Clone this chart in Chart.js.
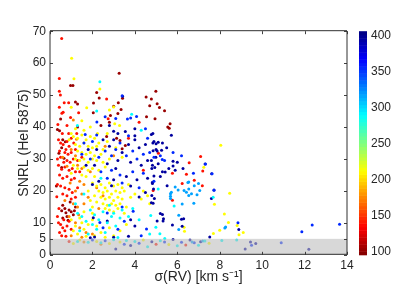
<!DOCTYPE html>
<html><head><meta charset="utf-8">
<script src="https://cdn.jsdelivr.net/npm/chart.js@4.4.1/dist/chart.umd.min.js"></script>
<style>html,body{margin:0;padding:0;background:#fff;}#wrap{width:407px;height:286px;}</style>
</head><body><div id="wrap"><canvas id="c" width="407" height="286"></canvas></div>
<script>
const xTicks=[0,2,4,6,8,10,12,14];
const yTicks=[0,5,10,20,30,40,50,60,70];
const cbTicks=[100,150,200,250,300,350,400];
const cbRange=[96.3,405.7];
const bandMax=5;
const xLabel='\u03c3(RV) [km s\u207b\u00b9]';
const yLabel='SNRL (HeI 5875)';
// colour value (colourbar quantity) of each group
const teffDarkRed=104, teffRed=140, teffOrange=175, teffYellow=212, teffCyan=290, teffLightBlue=318, teffBlue=355, teffDarkBlue=396;

const darkRedPts=[[0.35,39.2],[0.45,38.8],[0.5,42.5],[0.97,53],[1.08,53],[1.2,47.8],[1.3,47.2],[1.3,40],[0.6,36],[0.72,35.4],[0.55,33.5],[0.42,31.8],[0.66,30.2],[0.55,27.3],[0.3,21.5],
[2.05,47.5],[2.2,50.8],[2.32,49.1],[3.26,56.8],[3.42,49],[3.22,47.6],[3.0,46.5],[2.85,43.6],[2.04,44.5],[3.2,44.2],[3.35,45.5],[2.4,40.5],[2.67,37],[3.14,36.5],[3.3,35.8],[3.55,34.2],[3.4,33.2],[2.8,41.5],
[4.53,49.4],[4.99,51.2],[4.78,48.8],[5.05,47.3],[4.7,46.7],[5.16,46.1],[5.4,45.1],[5.66,41],[5.55,40],[5.62,39.6],[4.95,42.6],[4.55,43.2],
[0.6,15.5],[0.7,14.5],[0.75,13.2],[0.9,14],[1.0,13.5],[1.1,12.5],[0.8,12],[0.6,11.5],[1.2,15],[0.95,16.5],[0.55,13.8],[1.15,13.8],[0.85,10.8]];

const redPts=[[0.55,67.7],[0.44,55.2],[0.44,51.2],[0.49,50],[0.67,47.6],[0.88,47.6],[0.44,46.2],[0.56,44.3],[0.62,44.6],[0.8,40.5],[0.37,40.8],[0.97,43],[1.35,44.5],[0.88,38],[1.26,38],[2.67,48.8],[2.74,42.6],
[0.4,36],[0.5,35],[0.62,34.5],[0.8,35.5],[0.9,34],[1.0,36.5],[1.12,35],[0.45,32.5],[0.7,32],[0.85,31.5],[1.0,32],[1.2,33],[0.35,30],[0.5,30.5],[0.65,29],[0.8,29.5],[0.95,29],[1.1,30],[1.3,29.5],[0.4,28],[0.55,26.8],[0.7,27.5],[0.9,26.5],[1.05,27],[1.2,26],[0.45,25],[0.6,24],[0.8,24.5],[1.0,23.5],[1.15,24],[0.35,22],[0.5,21.5],[0.7,21],[0.9,20.5],[1.05,19.5],[1.3,21],[0.6,19],[0.8,18.5],[1.0,17.5],[1.2,18],[0.32,18.2],[1.5,30.5],[1.4,26],[0.75,33],[0.58,38],
[0.4,10],[0.5,9.5],[0.6,8.5],[0.7,7.5],[0.45,7],[0.55,6],[0.8,9],[0.9,10.5],[0.35,12],[0.65,11],[1.0,8],[0.75,5.8],[0.42,14.5],
[6.56,28.8],[6.43,25.2],[7.2,26.2],[5.77,25.5],[6.8,23.3],[7.1,30.8],[7.18,21.6],[5.11,31.8],[6.23,22.3],[5.77,17.1],[4.86,20.1],[4.4,26.5],[3.7,36.5],[4.2,41.5],
[5.0,3.3],[6.4,3.1],[0.9,4.2]];

const orangePts=[[1.0,33],[1.2,31],[1.3,28],[1.5,27],[1.4,23],[1.6,22],[1.2,20],[1.5,19],[1.8,18],[1.1,16],[1.3,15],[1.6,16],[0.9,12],[1.2,10],[1.4,8.5],[1.7,7],[1.0,6],[2.0,6.5],[1.5,5.5],[2.2,21],[2.5,18.5],[0.6,30.5],[0.8,27.7],[1.9,26],[2.6,34],[3.0,31],[0.95,22.5],[1.25,36.2],[0.7,17],[1.35,12.5],[2.3,14.5],[1.1,42.2],
[1.6,4.0],[2.4,3.3]];

const yellowPts=[[1.02,61.5],[1.13,55.1],[2.35,51.9],[1.0,46.2],[1.73,46],[3.0,46.3],[2.8,45.3],[3.05,41],[3.28,40.5],[1.0,38],[2.24,38],[2.7,38],[1.5,42],[1.9,40],[8.05,34.3],
[0.9,36],[1.1,37],[1.3,36.5],[1.5,37.5],[1.7,36],[1.9,37],[2.1,36.5],[2.3,35],[1.2,34.5],[1.4,34],[1.6,35],[1.8,34],[2.0,33.5],[2.2,34],[2.5,33],[1.3,32.5],[1.5,32],[1.7,31.5],[1.9,32],[2.1,31],[2.4,31.5],[1.2,30],[1.4,29.5],[1.6,30],[1.8,29],[2.0,30],[2.2,29.5],[2.5,29],[1.1,28],[1.3,27],[1.6,27.5],[1.8,26.5],[2.0,27],[2.3,26.5],[1.5,25],[1.7,24.5],[2.1,24.5],[2.6,27.5],[1.0,25.5],[2.8,30],[2.7,35.5],[3.1,33.5],[3.4,30.5],[1.2,39.5],[1.6,39],
[2.0,22.5],[2.2,21.5],[2.4,22],[2.6,21],[2.8,22.5],[3.0,21.5],[3.2,22],[3.4,21],[2.3,20],[2.5,19.5],[2.7,20],[2.9,19],[3.1,20],[3.3,19.5],[3.5,20],[2.1,18.5],[2.4,18],[2.6,17.5],[2.8,18],[3.0,17],[3.2,18],[3.4,17.5],[2.2,16.5],[2.5,16],[2.7,15.5],[2.9,16],[3.1,15.5],[3.3,16],[3.6,15],[2.6,14.5],[2.8,14],[3.0,13.5],[3.2,14.5],[3.5,13],[2.0,15],[1.8,20],[1.9,17],[3.7,22],[3.8,18],[4.0,19],
[1.0,11],[1.2,9],[1.4,11.5],[1.5,10],[1.6,8],[1.8,9.5],[2.0,11],[2.2,9],[1.3,6.5],[1.7,5.8],[2.1,6],[2.4,7],[2.6,5.5],[1.1,7.5],[2.8,8.5],[3.0,6],[3.3,7.5],[3.6,9.5],[2.0,13],[1.6,13.5],
[4.3,17.5],[4.6,18.5],[4.4,20],[4.7,16],
[7.25,27.4],[8.47,19.3],[7.75,15.8],[8.22,12.8],[8.41,10.1],[8.82,9.2],[8.91,6.3],[9.11,7],[8.0,7.7],[7.7,6.7],[6.32,8.6],[6.34,7.4],
[1.1,3.5],[2.2,4.2],[2.8,3.5],[3.3,4.0],[4.4,4.6],[5.6,3.2],[7.5,3.6],[1.4,4.6]];

const cyanPts=[[2.35,54.2],[1.29,40.5],[4.3,39],[3.85,44],[2.2,45],
[1.3,13],[1.5,12],[1.7,10.5],[1.9,14],[2.1,12.5],[2.3,11],[2.5,13.5],[2.7,10],[2.9,12],[3.1,9],[3.3,11.5],[1.4,7.5],[1.8,6.5],[2.2,8],[2.6,7],[3.0,13],[3.4,14],[2.0,9.5],[1.2,16],[2.8,15.5],[3.7,12],[3.9,14.5],[4.2,11],[1.6,19],[2.4,24],
[5.1,20.6],[7.69,18],[4.99,8.6],[5.41,5.1],[5.18,6.6],[4.75,12.3],[5.85,15.3],[4.7,6.5],[3.2,5.4],
[1.3,4.2],[1.8,3.9],[2.4,3.8],[3.0,4.7],[3.6,4.5],[4.0,4.2],[4.6,2.5],[5.2,4.4],[6.0,2.8],[7.0,3.0],[7.3,4.3],[8.1,4.5],[8.8,4.6]];

const lightBluePts=[[5.68,17.6],[5.68,18.3],[5.68,19.1],[5.72,19.6],[6.04,20.3],[6.32,20.1],[6.43,19.6],[6.54,20.6],[6.54,18.6],[6.67,19.1],[6.5,22.6],[6.8,21.6],[6.93,18.8],[7.06,20.1],[6.78,16.1],[6.23,15.9],[6.07,12.4],[6.07,7.9],[8.24,8.4],[6.54,22.8],[8.28,8.7],[5.9,21.2],[7.0,22.3],
[7.2,4.3],[6.7,4.0]];

const bluePts=[[3.4,49.8],[2.21,41.6],[2.6,43.2],[3.1,42.7],[3.65,42.5],[3.8,42.8],[4.08,43.3],[1.66,37.7],[2.2,37.5],[3.7,37.3],[4.5,39.5],
[1.6,35],[2.0,35.5],[2.3,30.5],[2.6,32.5],[2.9,31],[3.1,33],[3.3,35],[3.6,31],[3.9,32.5],[4.1,30],[4.4,31.5],[4.7,32],[4.9,30.5],[5.2,31],[5.4,29.5],[2.4,26],[2.9,26.5],[3.3,25],[3.9,26],[4.4,25.5],[4.9,23],[2.7,24],[3.4,22.5],[4.2,21],[1.9,30],[1.5,31.5],[4.6,36.5],[5.8,32],[6.2,31],
[2.35,10.1],[2.7,13.1],[3.92,13.6],[4.55,8.1],[3.2,8],[3.5,10.5],[4.3,6],[3.4,15],[2.5,8.5],
[7.33,28.4],[7.64,25.4],[7.73,20.2],[8.86,10],[11.87,7.2],[12.36,9.3],[13.65,9.6],[6.76,25.5],[5.29,29.8],
[2.0,4.6],[2.6,4.4],[3.5,3.3],[4.2,3.6],[5.4,4.0],[6.2,3.9],[6.8,3.8],[9.5,3.0],[10.9,3.8]];

const darkBluePts=[[5.72,37.4],[3.0,38.7],[4.0,37.3],[3.55,38.6],[4.85,38],[4.9,35.5],[3.42,49.6],
[1.8,33],[2.2,33],[2.5,36],[2.8,34],[3.0,36],[3.2,29.5],[3.4,32],[3.7,34.5],[3.8,29],[4.0,36],[4.2,33.5],[4.3,28],[4.5,34.5],[4.6,29.5],[4.8,27],[5.0,33],[5.1,28.5],[5.3,26],[5.5,33.5],[2.1,28],[2.7,28.5],[3.1,27],[3.6,24.5],[4.1,23.5],[4.6,24],[5.2,24.5],[2.3,23],[3.0,23.5],[3.8,21.5],[4.5,19.5],[1.7,28],[2.0,22],[4.0,39.5],[3.2,38],[2.8,40.5],[5.3,35],[6.0,29],[5.9,26.5],
[4.78,37.7],[4.85,35],[5.0,34.8],[5.1,35.2],[4.86,32.6],[5.05,32.5],[5.26,32.7],[4.78,29.5],[4.83,28],[4.99,30.5],[4.94,27.3],[5.8,27.8],[5.8,29.3],[6.27,27],[5.6,27],[5.43,25.9],[4.9,24.7],[7.31,28.4],[7.62,25.4],[4.83,22.7],
[4.83,22.3],[5.52,21.6],[4.88,20.6],[4.8,18.6],[4.92,17.6],[4.78,16.3],[4.86,16.1],[7.73,20.3],[7.61,17.6],[5.2,12.9],[5.3,12.6],[5.05,10.6],[5.35,11.3],[5.33,10.6],[5.77,9.3],[6.2,11.1],[6.3,11.3],[6.23,8.9],[7.53,5.6],[8.9,7.9],
[2.04,11.6],[2.7,10.6],[4.2,18.1],[1.9,5.3],[2.1,5.6],[3.0,5.5],[3.7,5.8],[4.0,9],[3.8,11],[2.9,21.6],
[3.1,1.8],[3.8,2.9],[4.8,4.1],[5.8,4.8],[6.6,4.6],[7.1,4.1],[9.2,1.8],[9.7,3.5],[12.2,1.7],[9.45,4.0]];

function jet(v){
  const t=1-(v-cbRange[0])/(cbRange[1]-cbRange[0]);
  const c=x=>Math.max(0,Math.min(1,x));
  const r=c(Math.min(4*t-1.5,-4*t+4.5)),g=c(Math.min(4*t-0.5,-4*t+3.5)),b=c(Math.min(4*t+0.5,-4*t+2.5));
  return 'rgb('+Math.round(r*255)+','+Math.round(g*255)+','+Math.round(b*255)+')';
}
function ds(pts,teff){
  const col=jet(teff);
  return {data:pts.map(p=>({x:p[0],y:p[1]})),backgroundColor:col,borderColor:col,borderWidth:0,pointRadius:1.5,pointHoverRadius:1.5,yAxisID:'y',xAxisID:'x'};
}
const FONT="'Liberation Sans', Arial, Helvetica, sans-serif";
const INK='#262626';

const overlay={
  id:'overlay',
  afterDatasetsDraw(chart){
    const {ctx,chartArea:a,scales:{x,y,cb}}=chart;
    ctx.save();
    // shaded low-SNR band
    const yb=y.getPixelForValue(bandMax), y0=y.getPixelForValue(0);
    ctx.fillStyle='rgba(190,190,190,0.6)';
    ctx.fillRect(a.left,yb,a.right-a.left,y0-yb);
    // inward ticks
    ctx.strokeStyle='#404040';ctx.lineWidth=1;
    ctx.beginPath();
    xTicks.forEach(v=>{const px=Math.round(x.getPixelForValue(v))+0.5;
      ctx.moveTo(px,a.bottom);ctx.lineTo(px,a.bottom-3);
      ctx.moveTo(px,a.top);ctx.lineTo(px,a.top+3);});
    yTicks.forEach(v=>{const py=Math.round(y.getPixelForValue(v))+0.5;
      ctx.moveTo(a.left,py);ctx.lineTo(a.left+3,py);
      ctx.moveTo(a.right,py);ctx.lineTo(a.right-3,py);});
    ctx.stroke();
    // box
    ctx.strokeStyle='#303030';
    ctx.beginPath();
    ctx.moveTo(a.left,a.top-0.5);ctx.lineTo(a.right,a.top-0.5);
    ctx.moveTo(a.left,a.bottom-0.5);ctx.lineTo(a.right,a.bottom-0.5);
    ctx.moveTo(a.left,a.top);ctx.lineTo(a.left,a.bottom);
    ctx.moveTo(a.right,a.top);ctx.lineTo(a.right,a.bottom);
    ctx.stroke();
    // colourbar
    const n=64, x0=a.right+12, w=8;
    for(let i=0;i<n;i++){
      const v0=cbRange[0]+(cbRange[1]-cbRange[0])*i/n, v1=cbRange[0]+(cbRange[1]-cbRange[0])*(i+1)/n;
      const p0=cb.getPixelForValue(v0), p1=cb.getPixelForValue(v1);
      ctx.fillStyle=jet((v0+v1)/2);
      ctx.fillRect(x0,p1,w,p0-p1+0.5);
    }
    ctx.restore();
  }
};

new Chart(document.getElementById('c'),{
  type:'scatter',
  data:{datasets:[ds(cyanPts,teffCyan),ds(lightBluePts,teffLightBlue),ds(bluePts,teffBlue),ds(darkBluePts,teffDarkBlue),ds(yellowPts,teffYellow),ds(orangePts,teffOrange),ds(redPts,teffRed),ds(darkRedPts,teffDarkRed)]},
  options:{
    responsive:false,animation:false,events:[],
    layout:{padding:{top:22,left:0,right:0,bottom:0}},
    plugins:{legend:{display:false},tooltip:{enabled:false}},
    scales:{
      x:{type:'linear',position:'bottom',min:0,max:14,
        afterBuildTicks:s=>{s.ticks=xTicks.map(v=>({value:v}));},
        afterFit:s=>{s.height=31;},
        grid:{display:false,drawTicks:false},border:{display:false},
        ticks:{padding:4,color:INK,font:{family:FONT,size:12},maxRotation:0,autoSkip:false},
        title:{display:true,text:xLabel,color:INK,font:{family:FONT,size:14},padding:{top:0,bottom:0}}},
      y:{type:'linear',position:'left',min:0,max:70,
        afterBuildTicks:s=>{s.ticks=yTicks.map(v=>({value:v}));},
        afterFit:s=>{s.width=50;},
        grid:{display:false,drawTicks:false},border:{display:false},
        ticks:{padding:4,color:INK,font:{family:FONT,size:12},autoSkip:false},
        title:{display:true,text:yLabel,color:INK,font:{family:FONT,size:14},padding:{top:15.6,bottom:0}}},
      cb:{type:'linear',position:'right',min:cbRange[0],max:cbRange[1],
        afterBuildTicks:s=>{s.ticks=cbTicks.map(v=>({value:v}));},
        afterFit:s=>{s.width=60;},
        grid:{display:false,drawTicks:false},border:{display:false},
        ticks:{padding:24,color:INK,font:{family:FONT,size:12},autoSkip:false}}
    }
  },
  plugins:[overlay]
});
</script></body></html>
